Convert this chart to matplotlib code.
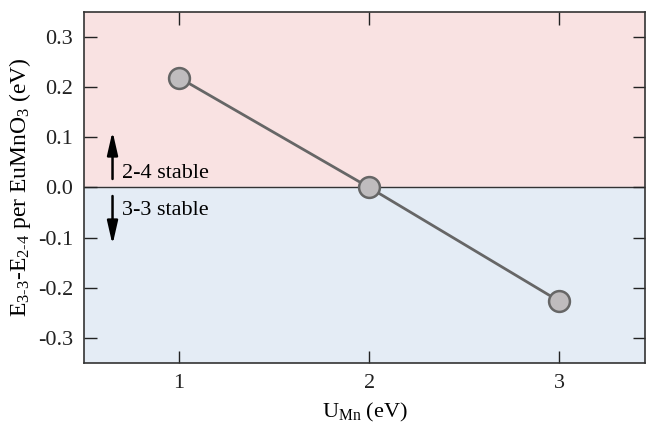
import matplotlib
matplotlib.use('Agg')
import matplotlib.pyplot as plt

# data
u_mn = [1, 2, 3]
dE = [0.219, 0.0, -0.227]
y_ticks = [-0.3, -0.2, -0.1, 0.0, 0.1, 0.2, 0.3]
x_ticks = [1, 2, 3]

plt.rcParams['font.family'] = 'Liberation Serif'
plt.rcParams['mathtext.fontset'] = 'custom'
plt.rcParams['mathtext.rm'] = 'Liberation Serif'
plt.rcParams['mathtext.it'] = 'Liberation Serif:italic'

fig = plt.figure(figsize=(6.48, 4.23), dpi=100)
ax = fig.add_axes([84 / 648, 60 / 423, 561 / 648, 351 / 423])

xmin, xmax = 0.5, 3.45
ymin, ymax = -0.35, 0.35
ax.axhspan(0, ymax, color='#f9e2e2', zorder=0)
ax.axhspan(ymin, 0, color='#e4ecf5', zorder=0)
ax.axhline(0, color='#333333', lw=1.0, zorder=1)

ax.plot(u_mn, dE, color='#666666', lw=2, zorder=2)
ax.plot(u_mn, dE, 'o', ms=15, mfc='#bfbcbe', mec='#666666', mew=1.8, zorder=3)

arrow = dict(arrowstyle='-|>,head_length=0.7,head_width=0.16', color='black',
             lw=1.8, mutation_scale=20, shrinkA=0, shrinkB=0)
ax.annotate('', xy=(0.65, 0.112), xytext=(0.65, 0.017), arrowprops=arrow)
ax.annotate('', xy=(0.65, -0.114), xytext=(0.65, -0.017), arrowprops=arrow)
ax.text(0.70, 0.018, '2-4 stable', fontsize=16, va='baseline')
ax.text(0.70, -0.055, '3-3 stable', fontsize=16, va='baseline')

ax.set_xlim(xmin, xmax)
ax.set_ylim(ymin, ymax)
ax.set_xticks(x_ticks)
ax.set_yticks(y_ticks)
ax.set_yticklabels(['%.1f' % v for v in y_ticks])
ax.tick_params(direction='in', top=True, right=True, length=9, width=1,
               labelsize=16, pad=8, colors='#222222')
for s in ax.spines.values():
    s.set_color('#333333')
    s.set_linewidth(1.2)

ax.set_xlabel(r'U$_{\mathregular{Mn}}$ (eV)', fontsize=16, labelpad=6)
ax.set_ylabel(r'E$_{\mathregular{3\text{-}3}}$-E$_{\mathregular{2\text{-}4}}$ per EuMnO$_{\mathregular{3}}$ (eV)',
              fontsize=17, labelpad=3)

fig.savefig('out.png', dpi=100)
